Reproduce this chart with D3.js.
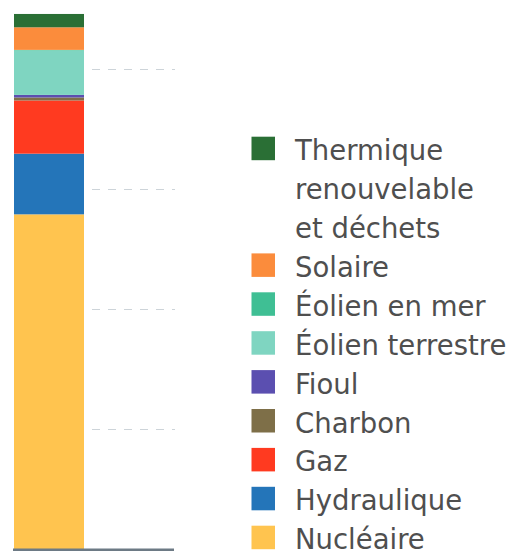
<!DOCTYPE html>
<html>
<head>
<meta charset="utf-8">
<script src="https://cdn.jsdelivr.net/npm/d3@7"></script>
<style>
  body { margin: 0; background: #fff; }
  svg { display: block; }
</style>
</head>
<body>
<script>
    // production 2022, TWh, bottom to top of the stack
    var categories = ["Nucléaire", "Hydraulique", "Gaz", "Charbon", "Fioul",
                      "Éolien terrestre", "Éolien en mer", "Solaire",
                      "Thermique renouvelable et déchets"];
    var values = [278.6, 50.5, 44.3, 2.5, 2.1, 37.0, 0.5, 18.8, 11.1];
    var colors = ["#ffc44f", "#2475b9", "#ff3a20", "#7e6f48", "#5b4fb0",
                  "#7fd5c1", "#3fbf94", "#fb8c3c", "#2a6f35"];
    var legendLines = {
        "Thermique renouvelable et déchets": ["Thermique", "renouvelable", "et déchets"]
    };
    var yTicks = [100, 200, 300, 400];

    var width = 514, height = 551,
        plotLeft = 14, plotRight = 175,
        barLeft = 14, barWidth = 70,
        baseY = 549;

    var svg = d3.select("body").append("svg")
        .attr("width", width)
        .attr("height", height);

    var y = d3.scaleLinear()
        .domain([0, 400])
        .range([baseY, 68.5]);

    // dashed grid
    svg.append("g")
        .selectAll("line")
        .data(yTicks)
        .enter()
        .append("line")
        .attr("x1", plotLeft)
        .attr("x2", plotRight)
        .attr("y1", function (d) { return Math.round(y(d)) + 0.5; })
        .attr("y2", function (d) { return Math.round(y(d)) + 0.5; })
        .style("stroke", "#cdd4d9")
        .style("stroke-width", 1.2)
        .style("stroke-dasharray", "8,8")
        .style("stroke-dashoffset", 2);

    var rows = categories.map(function (c, i) {
        return {name: c, value: values[i], color: colors[i]};
    });
    var stack = d3.stack()
        .keys(categories)
        .order(d3.stackOrderNone)([
            Object.fromEntries(categories.map(function (c, i) { return [c, values[i]]; }))
        ]);

    svg.append("g")
        .selectAll("rect")
        .data(stack)
        .enter()
        .append("rect")
        .attr("x", barLeft)
        .attr("width", barWidth)
        .attr("y", function (d) { return y(d[0][1]); })
        .attr("height", function (d) { return y(d[0][0]) - y(d[0][1]); })
        .style("fill", function (d, i) { return colors[i]; });

    // baseline
    svg.append("line")
        .attr("x1", 13)
        .attr("x2", 174)
        .attr("y1", 550)
        .attr("y2", 550)
        .style("stroke", "#6d7a85")
        .style("stroke-width", 3);

    // legend, top to bottom = reverse stack order
    var legendItems = rows.slice().reverse();
    var rowH = 38.9, legendTop = 136.7, sq = 23.5;
    var line = 0;
    var legend = svg.append("g")
        .style("font-family", "'DejaVu Sans', sans-serif")
        .style("font-size", "27.5px")
        .style("fill", "#4f4f4f");

    legendItems.forEach(function (d) {
        var top = legendTop + line * rowH;
        legend.append("rect")
            .attr("x", 251.5)
            .attr("y", top)
            .attr("width", sq)
            .attr("height", sq)
            .style("fill", d.color);
        var lines = legendLines[d.name] || [d.name];
        lines.forEach(function (t, k) {
            legend.append("text")
                .attr("x", 295)
                .attr("y", top + sq + k * rowH)
                .text(t);
        });
        line += lines.length;
    });
</script>
</body>
</html>
